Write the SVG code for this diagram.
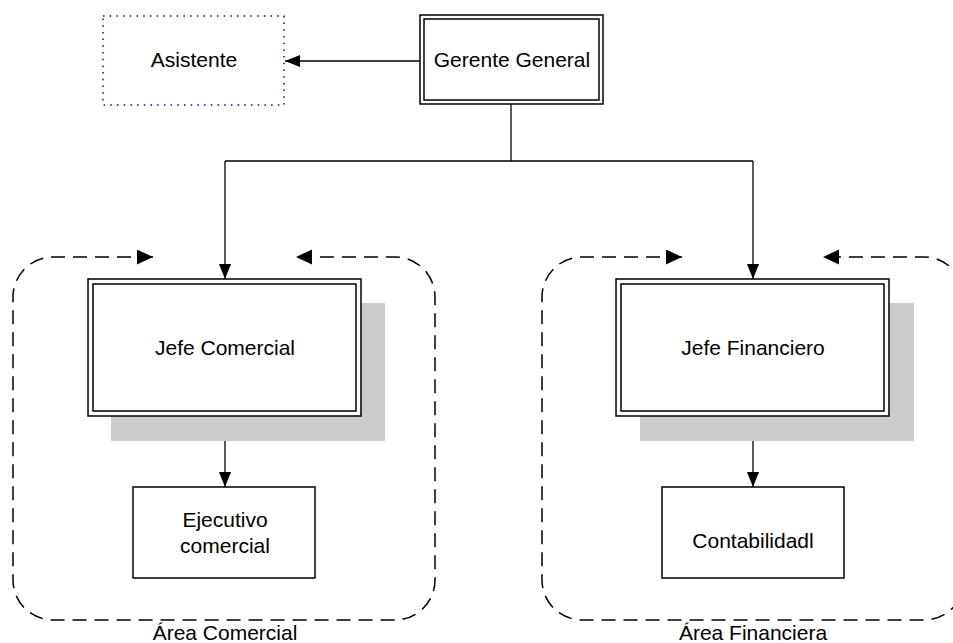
<svg xmlns="http://www.w3.org/2000/svg" width="953" height="643" viewBox="0 0 953 643">
<style>
  text { font-family: "Liberation Sans", Arial, sans-serif; font-size: 21px; fill: #000; text-anchor: middle; }
  .box { fill: #fff; stroke: #000; stroke-width: 1.5; }
  .dbl { fill: none; stroke: #000; stroke-width: 1.5; }
  .shadow { fill: #cccccc; stroke: none; }
  .conn { fill: none; stroke: #000; stroke-width: 1.3; }
  .area { fill: none; stroke: #000; stroke-width: 1.5; stroke-dasharray: 14 8; }
  .dotted { fill: #fff; stroke: #0000ff; stroke-width: 1.5; stroke-dasharray: 1.5 5.2; }
</style>
<defs>
  <marker id="arr" markerUnits="userSpaceOnUse" markerWidth="16" markerHeight="14" refX="15" refY="6" orient="auto-start-reverse">
    <path d="M0,0 L15,6 L0,12 Z" fill="#000"/>
  </marker>
  <marker id="arrS" markerUnits="userSpaceOnUse" markerWidth="16" markerHeight="16" refX="16" refY="7.5" orient="auto-start-reverse">
    <path d="M0,0 L16,7.5 L0,15 Z" fill="#000"/>
  </marker>
</defs>

<g id="area-comercial">
  <path class="area" d="M153,257 L53,257 A40,40 0 0 0 13,297 L13,580 A40,40 0 0 0 53,620 L395,620 A40,40 0 0 0 435,580 L435,297 A40,40 0 0 0 395,257 L296,257" marker-start="url(#arrS)" marker-end="url(#arrS)"/>
  <text x="225" y="640">Área Comercial</text>
</g>
<g id="area-financiera">
  <path class="area" d="M682,257 L582,257 A40,40 0 0 0 542,297 L542,580 A40,40 0 0 0 582,620 L924,620 A40,40 0 0 0 964,580 L964,297 A40,40 0 0 0 924,257 L823,257" marker-start="url(#arrS)" marker-end="url(#arrS)"/>
  <text x="753" y="640">Área Financiera</text>
</g>

<g id="connectors">
  <path class="conn" d="M420,61 L285,61" marker-end="url(#arr)"/>
  <path class="conn" d="M511,104 L511,161"/>
  <path class="conn" d="M225,161 L753,161"/>
  <path class="conn" d="M225,161 L225,279" marker-end="url(#arr)"/>
  <path class="conn" d="M753,161 L753,279" marker-end="url(#arr)"/>
  <path class="conn" d="M225,416 L225,487" marker-end="url(#arr)"/>
  <path class="conn" d="M753,416 L753,487" marker-end="url(#arr)"/>
</g>

<g id="asistente">
  <rect class="dotted" x="103" y="16" width="181" height="89"/>
  <text x="194" y="67">Asistente</text>
</g>

<g id="gerente-general">
  <rect class="box" x="420" y="15" width="183" height="89"/>
  <rect class="dbl" x="424" y="19" width="175" height="81"/>
  <text x="512" y="67">Gerente General</text>
</g>

<g id="jefe-comercial">
  <rect class="shadow" x="111" y="303" width="274" height="138"/>
  <rect class="box" x="88" y="279" width="273" height="137"/>
  <rect class="dbl" x="93" y="284" width="263" height="127"/>
  <text x="225" y="355">Jefe Comercial</text>
</g>

<g id="jefe-financiero">
  <rect class="shadow" x="640" y="303" width="274" height="138"/>
  <rect class="box" x="616" y="279" width="273" height="137"/>
  <rect class="dbl" x="621" y="284" width="263" height="127"/>
  <text x="753" y="355">Jefe Financiero</text>
</g>

<g id="ejecutivo-comercial">
  <rect class="box" x="133" y="487" width="182" height="91"/>
  <text x="225" y="527">Ejecutivo</text>
  <text x="225" y="553">comercial</text>
</g>

<g id="contabilidad">
  <rect class="box" x="662" y="487" width="182" height="91"/>
  <text x="753" y="548">Contabilidadl</text>
</g>
</svg>
